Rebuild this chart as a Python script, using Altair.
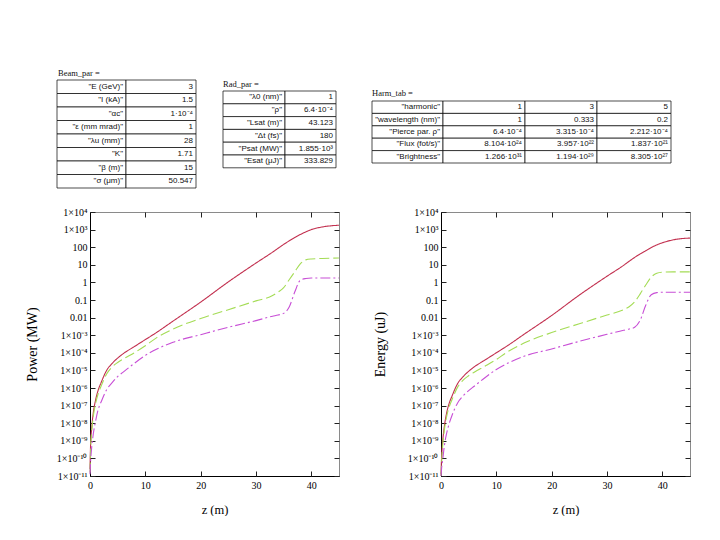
import json
import altair as alt
import pandas as pd

# ---------------- data ----------------
Z = [0, 0.1, 0.3, 0.6, 1, 1.5, 2, 3, 4, 5, 6, 8, 10, 12, 15, 20, 25, 30,
     33, 34, 35, 36, 37, 38, 39, 40, 42, 45]

# log10 of power (MW)
POWER_H1 = [-10.6, -9.3, -8.3, -7.4, -6.7, -6.1, -5.7, -5.0, -4.6, -4.3,
            -4.05, -3.65, -3.25, -2.85, -2.2, -1.12, 0.03, 1.1, 1.72, 1.94,
            2.16, 2.36, 2.55, 2.72, 2.87, 3.0, 3.15, 3.25]
POWER_H3 = [-10.8, -9.6, -8.5, -7.6, -6.9, -6.3, -5.9, -5.2, -4.8, -4.55,
            -4.35, -4.0, -3.6, -3.15, -2.65, -2.05, -1.55, -1.05, -0.75, -0.55,
            -0.3, 0.15, 0.6, 1.05, 1.28, 1.33, 1.36, 1.39]
POWER_H5 = [-10.9, -10.2, -9.4, -8.6, -7.9, -7.2, -6.8, -6.1, -5.7, -5.35,
            -5.1, -4.6, -4.15, -3.8, -3.4, -2.97, -2.55, -2.17, -1.92, -1.85,
            -1.76, -1.4, -0.55, 0.12, 0.22, 0.25, 0.25, 0.25]

# log10 of energy (uJ)
ENERGY_H1 = [-10.9, -10.0, -9.05, -8.2, -7.45, -6.85, -6.45, -5.75, -5.35, -5.05,
             -4.8, -4.4, -4.0, -3.6, -2.95, -1.88, -0.72, 0.35, 0.97, 1.2,
             1.42, 1.62, 1.8, 1.98, 2.13, 2.25, 2.42, 2.52]
ENERGY_H3 = [-11.0, -10.3, -9.3, -8.4, -7.65, -7.05, -6.65, -5.95, -5.55, -5.3,
             -5.1, -4.75, -4.38, -3.95, -3.45, -2.85, -2.35, -1.85, -1.55, -1.38,
             -1.1, -0.65, -0.15, 0.3, 0.52, 0.58, 0.6, 0.6]
ENERGY_H5 = [-11.0, -10.6, -10.1, -9.3, -8.6, -8.0, -7.55, -6.85, -6.45, -6.15,
             -5.9, -5.4, -4.95, -4.6, -4.2, -3.78, -3.35, -2.95, -2.72, -2.65,
             -2.55, -2.15, -1.3, -0.7, -0.58, -0.56, -0.56, -0.56]

SERIES = ["harmonic 1", "harmonic 3", "harmonic 5"]

X_TICKS = [0, 10, 20, 30, 40]
Y_TICK_EXP = list(range(-11, 5))
Y_TICK_LABELS = ["1×10⁻¹¹", "1×10⁻¹⁰", "1×10⁻⁹", "1×10⁻⁸", "1×10⁻⁷", "1×10⁻⁶",
                 "1×10⁻⁵", "1×10⁻⁴", "1×10⁻³", "0.01", "0.1", "1", "10", "100",
                 "1×10³", "1×10⁴"]

BEAM_LABELS = ['"E (GeV)"', '"I (kA)"', '"αc"', '"ε (mm mrad)"', '"λu (mm)"',
               '"K"', '"β (m)"', '"σ (μm)"']
BEAM_VALUES = ["3", "1.5", "1·10⁻⁴", "1", "28", "1.71", "15", "50.547"]

RAD_LABELS = ['"λ0 (nm)"', '"ρ"', '"Lsat (m)"', '"Δt (fs)"', '"Psat (MW)"',
              '"Esat (μJ)"']
RAD_VALUES = ["1", "6.4·10⁻⁴", "43.123", "180", "1.855·10³", "333.829"]

HARM_LABELS = ['"harmonic"', '"wavelength (nm)"', '"Pierce par. ρ"',
               '"Flux (fot/s)"', '"Brightness"']
HARM_H1 = ["1", "1", "6.4·10⁻⁴", "8.104·10²⁴", "1.266·10³¹"]
HARM_H3 = ["3", "0.333", "3.315·10⁻⁴", "3.957·10²²", "1.194·10²⁹"]
HARM_H5 = ["5", "0.2", "2.212·10⁻⁴", "1.837·10²¹", "8.305·10²⁷"]

# ---------------- styles / layout ----------------
COLORS = ["#c2304f", "#a4dc55", "#c84fd6"]
DASHES = [[1, 0], [10, 4], [10, 3, 2, 3]]
SERIF = "Liberation Serif"
SANS = "Liberation Sans"

PAD_LEFT = 16
OX, OY = 90, 8          # page position of the tables panel origin
TW, TH = 600, 185

TABLE_LAYOUT = {
    "Beam_par =": {"title": (58, 72), "cols": [57, 126, 196], "top": 79, "row_h": 13.5},
    "Rad_par =": {"title": (223, 83), "cols": [223, 285, 336], "top": 90, "row_h": 12.8},
    "Harm_tab =": {"title": (372, 92), "cols": [372, 443, 525, 597, 671], "top": 100, "row_h": 12.4},
}

PW, PH = 249, 264

# ---------------- tables ----------------
tables_content = {
    "Beam_par =": [BEAM_LABELS, BEAM_VALUES],
    "Rad_par =": [RAD_LABELS, RAD_VALUES],
    "Harm_tab =": [HARM_LABELS, HARM_H1, HARM_H3, HARM_H5],
}

cells, texts, titles = [], [], []
for name, columns in tables_content.items():
    lay = TABLE_LAYOUT[name]
    cols, top, h = lay["cols"], lay["top"], lay["row_h"]
    titles.append({"x": lay["title"][0], "y": lay["title"][1], "text": name})
    for c, column in enumerate(columns):
        for r, txt in enumerate(column):
            y0 = top + r * h
            cells.append({"x": cols[c], "x2": cols[c + 1], "y": y0, "y2": y0 + h})
            texts.append({"x": cols[c + 1] - 3, "y": y0 + h / 2, "text": txt})

xs = alt.Scale(domain=[OX, OX + TW], nice=False, zero=False)
ys = alt.Scale(domain=[OY, OY + TH], nice=False, zero=False, reverse=True)

rects = alt.Chart(pd.DataFrame(cells)).mark_rect(
    fill="white", stroke="black", strokeWidth=0.7
).encode(
    x=alt.X("x:Q", scale=xs, axis=None), x2="x2:Q",
    y=alt.Y("y:Q", scale=ys, axis=None), y2="y2:Q",
)
cell_text = alt.Chart(pd.DataFrame(texts)).mark_text(
    align="right", baseline="middle", font=SANS, fontSize=8, color="#111"
).encode(
    x=alt.X("x:Q", scale=xs, axis=None),
    y=alt.Y("y:Q", scale=ys, axis=None),
    text="text:N",
)
title_text = alt.Chart(pd.DataFrame(titles)).mark_text(
    align="left", baseline="middle", font=SERIF, fontSize=8.5, color="#111"
).encode(
    x=alt.X("x:Q", scale=xs, axis=None),
    y=alt.Y("y:Q", scale=ys, axis=None),
    text="text:N",
)
tables = alt.layer(rects, cell_text, title_text).properties(
    width=TW, height=TH, view=alt.ViewBackground(stroke="transparent")
)

# ---------------- plots ----------------
label_expr = (json.dumps(Y_TICK_LABELS, ensure_ascii=False)
              + "[round(log(datum.value)/LN10) + 11]")
y_values = [10.0 ** e for e in Y_TICK_EXP]


def make_plot(series_logs, ytitle, title_x):
    rows = []
    for s, logs in zip(SERIES, series_logs):
        for z, lg in zip(Z, logs):
            rows.append({"z": z, "v": 10.0 ** lg, "series": s})
    df = pd.DataFrame(rows)
    x_scale = alt.Scale(domain=[0, 45], nice=False, zero=False)
    y_scale = alt.Scale(type="log", domain=[1e-11, 1e4], nice=False)
    base = alt.Chart(df)

    lines = base.mark_line(strokeWidth=1.1, interpolate="monotone").encode(
        x=alt.X("z:Q", scale=x_scale, axis=alt.Axis(
            orient="bottom", values=X_TICKS, ticks=False, grid=False,
            domain=True, domainColor="black", labelFlush=False,
            labelFont=SERIF, labelFontSize=10, labelColor="black", labelPadding=4,
            title="z (m)", titleFont=SERIF, titleFontSize=12.5,
            titleFontWeight="normal", titleColor="black", titlePadding=13)),
        y=alt.Y("v:Q", scale=y_scale, axis=alt.Axis(
            orient="left", values=y_values, labelExpr=label_expr, ticks=False,
            grid=False, domain=True, domainColor="black",
            labelFont=SERIF, labelFontSize=10, labelColor="black", labelPadding=3,
            title=ytitle, titleFont=SERIF, titleFontSize=14,
            titleFontWeight="normal", titleColor="black",
            titleX=title_x, titleY=PH / 2, titleBaseline="middle")),
        color=alt.Color("series:N", scale=alt.Scale(domain=SERIES, range=COLORS), legend=None),
        strokeDash=alt.StrokeDash("series:N", scale=alt.Scale(domain=SERIES, range=DASHES), legend=None),
    )

    def tick_layer(xo, yo):
        return base.mark_line(opacity=0).encode(
            x=alt.X("z:Q", scale=x_scale, axis=alt.Axis(
                orient=xo, values=X_TICKS, labels=False, ticks=True, tickSize=5,
                offset=-5, domain=False, grid=False, tickColor="#222", title=None)),
            y=alt.Y("v:Q", scale=y_scale, axis=alt.Axis(
                orient=yo, values=y_values, labels=False, ticks=True, tickSize=5,
                offset=-5, domain=False, grid=False, tickColor="#222", title=None,
                minExtent=0)),
            detail="series:N",
        )

    return alt.layer(lines, tick_layer("bottom", "left"), tick_layer("top", "right")).resolve_axis(
        x="independent", y="independent"
    ).properties(width=PW, height=PH, view=alt.ViewBackground(stroke="#8a8a8a", strokeWidth=1))


p_power = make_plot([POWER_H1, POWER_H3, POWER_H5], "Power (MW)", -58)
p_energy = make_plot([ENERGY_H1, ENERGY_H3, ENERGY_H5], "Energy (uJ)", -61)

bottom = alt.hconcat(p_power, p_energy, spacing=30)
chart = alt.vconcat(tables, bottom, spacing=11).properties(
    padding={"left": PAD_LEFT, "top": 0, "right": 0, "bottom": 0}
).configure(background="white")

chart.save("out.html", embed_options={"renderer": "svg", "actions": False})
